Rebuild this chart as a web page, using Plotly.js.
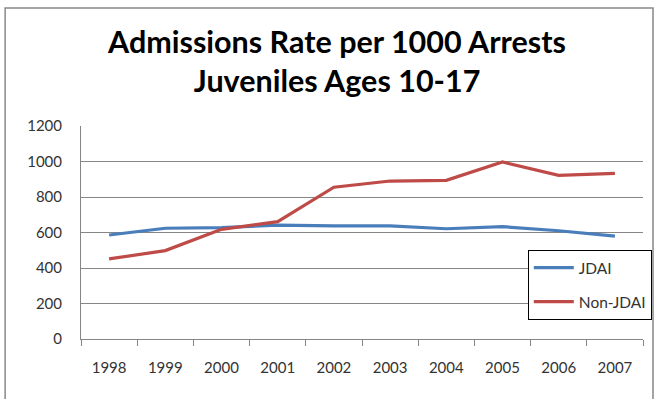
<!DOCTYPE html>
<html>
<head>
<meta charset="utf-8">
<script src="https://cdn.plot.ly/plotly-3.0.1.min.js"></script>
<style>
html,body{margin:0;padding:0;background:#fff;}
#chart{width:657px;height:399px;}
</style>
</head>
<body>
<div id="chart"></div>
<script>
const years = ["1998","1999","2000","2001","2002","2003","2004","2005","2006","2007"];
const jdai = [586, 624, 627, 642, 637, 637, 621, 633, 610, 580];
const nonJdai = [451, 498, 618, 661, 855, 890, 894, 997, 922, 933];
const yTicks = [0, 200, 400, 600, 800, 1000, 1200];

const font = "Lato, 'Open Sans', 'DejaVu Sans', sans-serif";

const traces = [
  {x: years, y: jdai, name: "JDAI", type: "scatter", mode: "lines", legendgroup: "a",
   line: {color: "#4A7EBB", width: 3.2}},
  {x: years, y: nonJdai, name: "Non-JDAI", type: "scatter", mode: "lines", legendgroup: "b",
   line: {color: "#BE4B48", width: 3.2}}
];

const layout = {
  width: 657, height: 399,
  margin: {l: 81, r: 14, t: 126, b: 60, autoexpand: false},
  paper_bgcolor: "#fff", plot_bgcolor: "#fff",
  font: {family: font, size: 15, color: "#333"},
  title: {
    text: "Admissions Rate per 1000 Arrests<br>Juveniles Ages 10-17",
    font: {family: font, size: 30.5, color: "#000", weight: "bold"},
    x: 0.513, xanchor: "center", yref: "container", y: 0.868, yanchor: "middle"
  },
  xaxis: {
    type: "category", range: [-0.5, 9.5],
    tickson: "boundaries", ticks: "outside", ticklen: 6, tickcolor: "#868686",
    ticklabelstandoff: 15, automargin: false,
    showline: true, linecolor: "#868686", linewidth: 1,
    showgrid: false, zeroline: false, fixedrange: true,
    tickfont: {family: font, size: 15, color: "#333"}
  },
  yaxis: {
    range: [0, 1200], tickvals: yTicks, ticktext: yTicks.map(String),
    showgrid: true, gridcolor: "#868686", gridwidth: 1,
    showline: true, linecolor: "#868686", linewidth: 1,
    ticks: "", ticklen: 0, zeroline: false, fixedrange: true,
    ticklabelstandoff: 15, automargin: false,
    tickfont: {family: font, size: 15, color: "#333"}
  },
  showlegend: true,
  legend: {
    x: 0.795, y: 0.418, xanchor: "left", yanchor: "top",
    bgcolor: "#fff", bordercolor: "#000", borderwidth: 1,
    font: {family: font, size: 15.5, color: "#333"},
    traceorder: "grouped", tracegroupgap: 11, itemwidth: 40
  },
  shapes: [
    {type: "rect", xref: "paper", yref: "paper",
     x0: -0.135, x1: 1.0178, y0: -0.35, y1: 1.554,
     line: {color: "#888", width: 1.5}, fillcolor: "rgba(0,0,0,0)", layer: "below"}
  ]
};

Plotly.newPlot("chart", traces, layout, {displayModeBar: false, staticPlot: true});
</script>
</body>
</html>
